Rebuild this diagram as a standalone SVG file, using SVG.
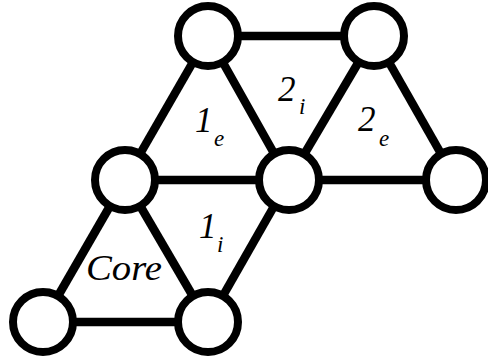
<svg xmlns="http://www.w3.org/2000/svg" width="488" height="362" viewBox="0 0 488 362">
  <style>
    .edge { stroke: #000; stroke-width: 8.5; stroke-linecap: butt; fill: none; }
    .node circle { fill: #fff; stroke: #000; stroke-width: 8; }
    .lbl { font-family: "Liberation Serif", "DejaVu Serif", serif; font-style: italic; fill: #000; }
    .main { font-size: 35px; }
    .sub { font-size: 23px; }
  </style>
  <rect width="488" height="362" fill="#fff"/>
  <g id="connectors">
    <line class="edge" x1="43" y1="322" x2="208" y2="322"/>
    <line class="edge" x1="43" y1="322" x2="125" y2="180"/>
    <line class="edge" x1="125" y1="180" x2="208" y2="322"/>
    <line class="edge" x1="125" y1="180" x2="289" y2="180"/>
    <line class="edge" x1="125" y1="180" x2="208" y2="36"/>
    <line class="edge" x1="208" y1="36" x2="289" y2="180"/>
    <line class="edge" x1="289" y1="180" x2="208" y2="322"/>
    <line class="edge" x1="208" y1="36" x2="374" y2="36"/>
    <line class="edge" x1="374" y1="36" x2="289" y2="180"/>
    <line class="edge" x1="374" y1="36" x2="456" y2="180"/>
    <line class="edge" x1="289" y1="180" x2="456" y2="180"/>
  </g>
  <g id="node-top-left" class="node"><circle cx="208" cy="36" r="30"/></g>
  <g id="node-top-right" class="node"><circle cx="374" cy="36" r="30"/></g>
  <g id="node-mid-left" class="node"><circle cx="125" cy="180" r="30"/></g>
  <g id="node-mid-center" class="node"><circle cx="289" cy="180" r="30"/></g>
  <g id="node-mid-right" class="node"><circle cx="456" cy="180" r="30"/></g>
  <g id="node-bottom-left" class="node"><circle cx="43" cy="322" r="30"/></g>
  <g id="node-bottom-center" class="node"><circle cx="208" cy="322" r="30"/></g>
  <g id="labels">
    <text class="lbl"><tspan class="main" x="195" y="132">1</tspan><tspan class="sub" x="214" y="146">e</tspan></text>
    <text class="lbl"><tspan class="main" x="278" y="101">2</tspan><tspan class="sub" x="299" y="114">i</tspan></text>
    <text class="lbl"><tspan class="main" x="358" y="131">2</tspan><tspan class="sub" x="379" y="146">e</tspan></text>
    <text class="lbl"><tspan class="main" x="199" y="238">1</tspan><tspan class="sub" x="217" y="252">i</tspan></text>
    <text class="lbl main" x="86" y="280" textLength="76" lengthAdjust="spacingAndGlyphs">Core</text>
  </g>
</svg>
